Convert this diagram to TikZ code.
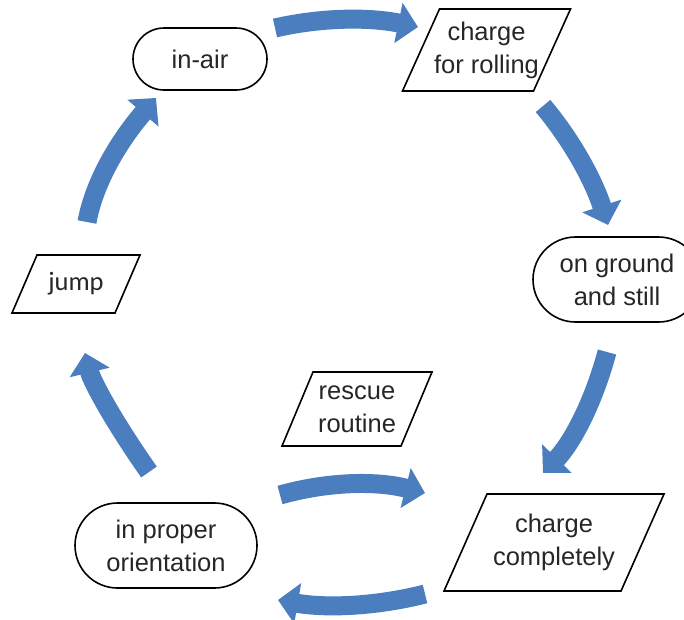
\documentclass[tikz,border=0pt]{standalone}
\usepackage{fontspec}
\setmainfont{Liberation Sans}
\newfontfamily\calibrifont{Carlito}
\usetikzlibrary{arrows.meta,shapes.misc}
\definecolor{flowblue}{RGB}{74,126,190}
\definecolor{inktext}{RGB}{38,38,38}
% outline of a slanted (parallelogram) box around a named text node:
% #1 node, #2 half width, #3 half height, #4 half of the horizontal slant
\newcommand{\slantbox}[4]{%
  \draw[iobox] ([shift={(-#2+#4,-#3)}]#1.center) -- ([shift={(#2+#4,-#3)}]#1.center)
    -- ([shift={(#2-#4,#3)}]#1.center) -- ([shift={(-#2-#4,#3)}]#1.center) -- cycle;}
\begin{document}
\begin{tikzpicture}[x=1pt,y=-1pt,
  labeltext/.style={inner sep=0pt, align=center, text=inktext,
    font=\fontsize{25.5}{33}\selectfont},
  state/.style={labeltext, rounded rectangle, draw=black, line width=1.6pt},
  iobox/.style={draw=black, line width=1.6pt, line join=miter},
  flow/.style={draw=flowblue, line width=19pt,
    -{Triangle[width=40pt,length=20pt]}},
]
\useasboundingbox (0,0) rectangle (684,619);

% states (rounded boxes)
\node[state, minimum width=134pt, minimum height=62pt] (air) at (200,59) {in-air};
\node[state, minimum width=168pt, minimum height=85pt] (ground) at (617,279.5) {on ground\\and still};
\node[state, minimum width=182pt, minimum height=85pt] (orient) at (166,545.5) {in proper\\orientation};

% actions (slanted boxes)
\node[labeltext] (roll) at (486.5,50) {charge\\for rolling};
\slantbox{roll}{65.5}{41}{18.5}
\node[labeltext] (full) at (554,542.5) {charge\\completely};
\slantbox{full}{88.5}{48.5}{21.5}
\node[labeltext, font=\calibrifont\fontsize{26.5}{32}\selectfont] (jump) at (76,284) {jump};
\slantbox{jump}{51.5}{29}{12.5}
\node[labeltext] (rescue) at (357,409) {rescue\\routine};
\slantbox{rescue}{59.5}{37}{15.5}

% ends of the curved flow arrows
\coordinate (a0) at (275,28);   \coordinate (a1) at (418,27);
\coordinate (b0) at (543,106);  \coordinate (b1) at (608,225);
\coordinate (c0) at (607,352);  \coordinate (c1) at (543,473);
\coordinate (d0) at (425,594);  \coordinate (d1) at (278,600);
\coordinate (e0) at (280,495);  \coordinate (e1) at (425,493);
\coordinate (f0) at (149,472);  \coordinate (f1) at (85,353);
\coordinate (g0) at (87,222);   \coordinate (g1) at (156,98);

\draw[flow] (a0) .. controls (321.7,17.3) and (369.3,17) .. (a1);
\draw[flow] (b0) .. controls (571.7,140.1) and (593.3,179.8) .. (b1);
\draw[flow] (c0) .. controls (593.4,402.6) and (572.1,442.9) .. (c1);
\draw[flow] (d0) .. controls (376,606.4) and (327,608.4) .. (d1);
\draw[flow] (e0) .. controls (328.3,481.4) and (376.7,480.7) .. (e1);
\draw[flow] (f0) .. controls (113,420.7) and (91.7,381) .. (f1);
\draw[flow] (g0) .. controls (93.4,185.7) and (116,144.3) .. (g1);
\end{tikzpicture}
\end{document}
